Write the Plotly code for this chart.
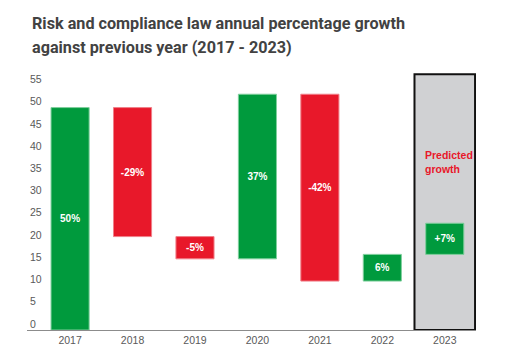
import plotly.graph_objects as go

# Year-over-year growth figures (percentage points)
years = ["2017", "2018", "2019", "2020", "2021", "2022", "2023"]
changes = [50, -29, -5, 37, -42, 6, 7]
labels = ["50%", "-29%", "-5%", "37%", "-42%", "6%", "+7%"]

# Forecast band shown behind the final year
forecast_year = ["2023"]
forecast_height = [57.5]

GREEN = "#009a3d"
RED = "#e8182a"

# Each bar floats from the running total of the previous years
bases = []
running = 0
for c in changes:
    bases.append(running)
    running += c

colors = [GREEN if c >= 0 else RED for c in changes]
edge = ["#7fcf9d" if c >= 0 else "#f07f88" for c in changes]

fig = go.Figure()

fig.add_trace(go.Bar(
    x=forecast_year, y=forecast_height, base=[0],
    width=0.97,
    marker=dict(color="#d0d1d3", line=dict(color="#111111", width=2)),
    hoverinfo="skip", showlegend=False,
))

fig.add_trace(go.Bar(
    x=years, y=changes, base=bases,
    width=0.61,
    marker=dict(color=colors, line=dict(color=edge, width=1)),
    text=labels, textposition="inside", insidetextanchor="middle",
    textangle=0,
    textfont=dict(family="Liberation Sans, Arial, sans-serif", size=10,
                  color="white", weight="bold"),
    showlegend=False,
))

# note inside the forecast band (category axis positions are indices)
fig.add_annotation(
    x=years.index(forecast_year[0]), y=37.8, xref="x", yref="y",
    text="<b>Predicted</b><br><b>growth</b>", showarrow=False,
    xanchor="left", yanchor="middle", align="left", xshift=-22,
    font=dict(family="Liberation Sans, Arial, sans-serif", size=10.5, color=RED,
              lineposition="none"),
)

title_font = dict(family="Roboto, sans-serif", size=16.2, color="#424242", weight="bold")
fig.add_annotation(
    x=30, y=22.7, xref="paper", yref="paper",
    text="Risk and compliance law annual percentage growth", showarrow=False,
    xanchor="left", yanchor="middle", font=title_font,
)
fig.add_annotation(
    x=30, y=46.7, xref="paper", yref="paper",
    text="against previous year (2017 - 2023)", showarrow=False,
    xanchor="left", yanchor="middle", font=title_font,
)

W, H = 507, 346
ml, mr, mt, mb = 27, 31, 71.6, 16
pw, ph = W - ml - mr, H - mt - mb

# convert the pixel-based title positions to paper coordinates
for ann in fig.layout.annotations[1:]:
    ann.x = (ann.x - ml) / pw
    ann.y = 1 - (ann.y - mt) / ph

fig.update_layout(
    width=W, height=H,
    margin=dict(l=ml, r=mr, t=mt, b=mb, pad=0),
    paper_bgcolor="white", plot_bgcolor="white",
    barmode="overlay",
    font=dict(family="Liberation Sans, Arial, sans-serif", size=10, color="#595959"),
)
fig.update_xaxes(
    type="category", categoryorder="array", categoryarray=years,
    range=[-0.69, 6.5],
    showline=True, linecolor="#8c8c8c", linewidth=1,
    ticks="", showgrid=False, automargin=False,
    tickfont=dict(size=10.5, color="#595959"),
)
fig.update_yaxes(
    range=[0, 58], dtick=5, tick0=0,
    showgrid=False, zeroline=False, showline=False,
    ticks="", ticklabelposition="inside", ticklabelstandoff=0,
    ticklabelshift=-6, automargin=False,
    tickfont=dict(size=10.5, color="#595959"),
)

fig.write_html("out.html")
